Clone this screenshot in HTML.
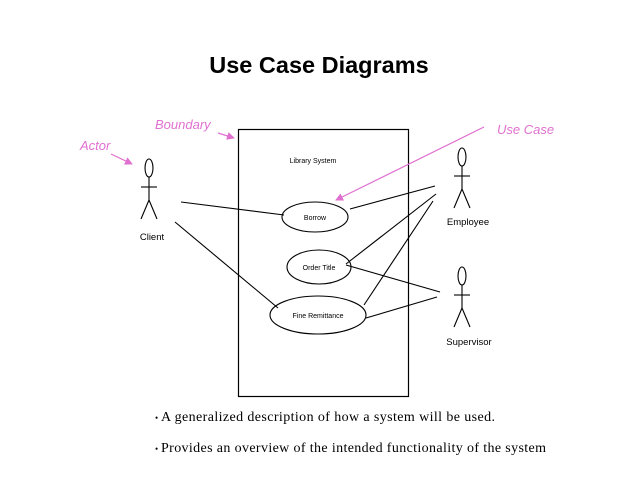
<!DOCTYPE html>
<html><head><meta charset="utf-8"><style>
html,body{margin:0;padding:0;background:#fff;width:638px;height:479px;overflow:hidden}
svg{display:block}
</style></head><body>
<svg width="638" height="479" xmlns="http://www.w3.org/2000/svg" font-family="Liberation Sans, sans-serif">
<defs>
<marker id="pa" markerWidth="8" markerHeight="8" refX="7" refY="4" orient="auto" markerUnits="userSpaceOnUse">
<path d="M0,0 L8,4 L0,8 z" fill="#e070d0"/></marker>
</defs>
<text x="319" y="73" text-anchor="middle" font-size="23.5" font-weight="bold">Use Case Diagrams</text>
<rect x="238.5" y="129.5" width="170" height="267" fill="none" stroke="#000" stroke-width="1.2"/>
<text x="313" y="163" text-anchor="middle" font-size="7">Library System</text>
<g fill="none" stroke="#000" stroke-width="1.1">
<ellipse cx="149" cy="168" rx="4" ry="9"/>
<line x1="149" y1="177" x2="149" y2="200"/><line x1="141" y1="187" x2="157" y2="187"/>
<line x1="149" y1="200" x2="141" y2="219"/><line x1="149" y1="200" x2="157" y2="219"/>
<ellipse cx="462" cy="157" rx="4" ry="9"/>
<line x1="462" y1="166" x2="462" y2="189"/><line x1="454" y1="176" x2="470" y2="176"/>
<line x1="462" y1="189" x2="454" y2="208"/><line x1="462" y1="189" x2="470" y2="208"/>
<ellipse cx="462" cy="276" rx="4" ry="9"/>
<line x1="462" y1="285" x2="462" y2="308"/><line x1="454" y1="295" x2="470" y2="295"/>
<line x1="462" y1="308" x2="454" y2="327"/><line x1="462" y1="308" x2="470" y2="327"/>
<ellipse cx="315" cy="217" rx="33" ry="15"/>
<ellipse cx="319" cy="267" rx="32" ry="17"/>
<ellipse cx="318" cy="315" rx="48" ry="19"/>
<line x1="181" y1="202" x2="284" y2="215"/>
<line x1="175" y1="222" x2="278" y2="308"/>
<line x1="435" y1="186" x2="350" y2="209"/>
<line x1="436" y1="194" x2="346" y2="264"/>
<line x1="433" y1="201" x2="364" y2="305"/>
<line x1="346" y1="265" x2="440" y2="292"/>
<line x1="437" y1="297" x2="366" y2="318"/>
</g>
<g font-size="7" text-anchor="middle">
<text x="315" y="220">Borrow</text>
<text x="319" y="270">Order Title</text>
<text x="318" y="318">Fine Remittance</text>
</g>
<g font-size="9.5" text-anchor="middle">
<text x="152" y="240">Client</text>
<text x="468" y="225">Employee</text>
<text x="469" y="345">Supervisor</text>
</g>
<g fill="#e070d0" font-size="13" font-style="italic">
<text x="80" y="150">Actor</text>
<text x="155" y="129">Boundary</text>
<text x="497" y="134">Use Case</text>
</g>
<g stroke="#e070d0" stroke-width="1.2" marker-end="url(#pa)">
<line x1="111" y1="154" x2="132" y2="164"/>
<line x1="218" y1="133" x2="234" y2="138"/>
<line x1="484" y1="127" x2="336" y2="200"/>
</g>
<g font-family="Liberation Serif, serif" font-size="14">
<text x="155" y="421" font-size="9">•</text>
<text x="161" y="421" textLength="334" lengthAdjust="spacing">A generalized description of how a system will be used.</text>
<text x="155" y="452" font-size="9">•</text>
<text x="161" y="452" textLength="385" lengthAdjust="spacing">Provides an overview of the intended functionality of the system</text>
</g>
</svg>
</body></html>
